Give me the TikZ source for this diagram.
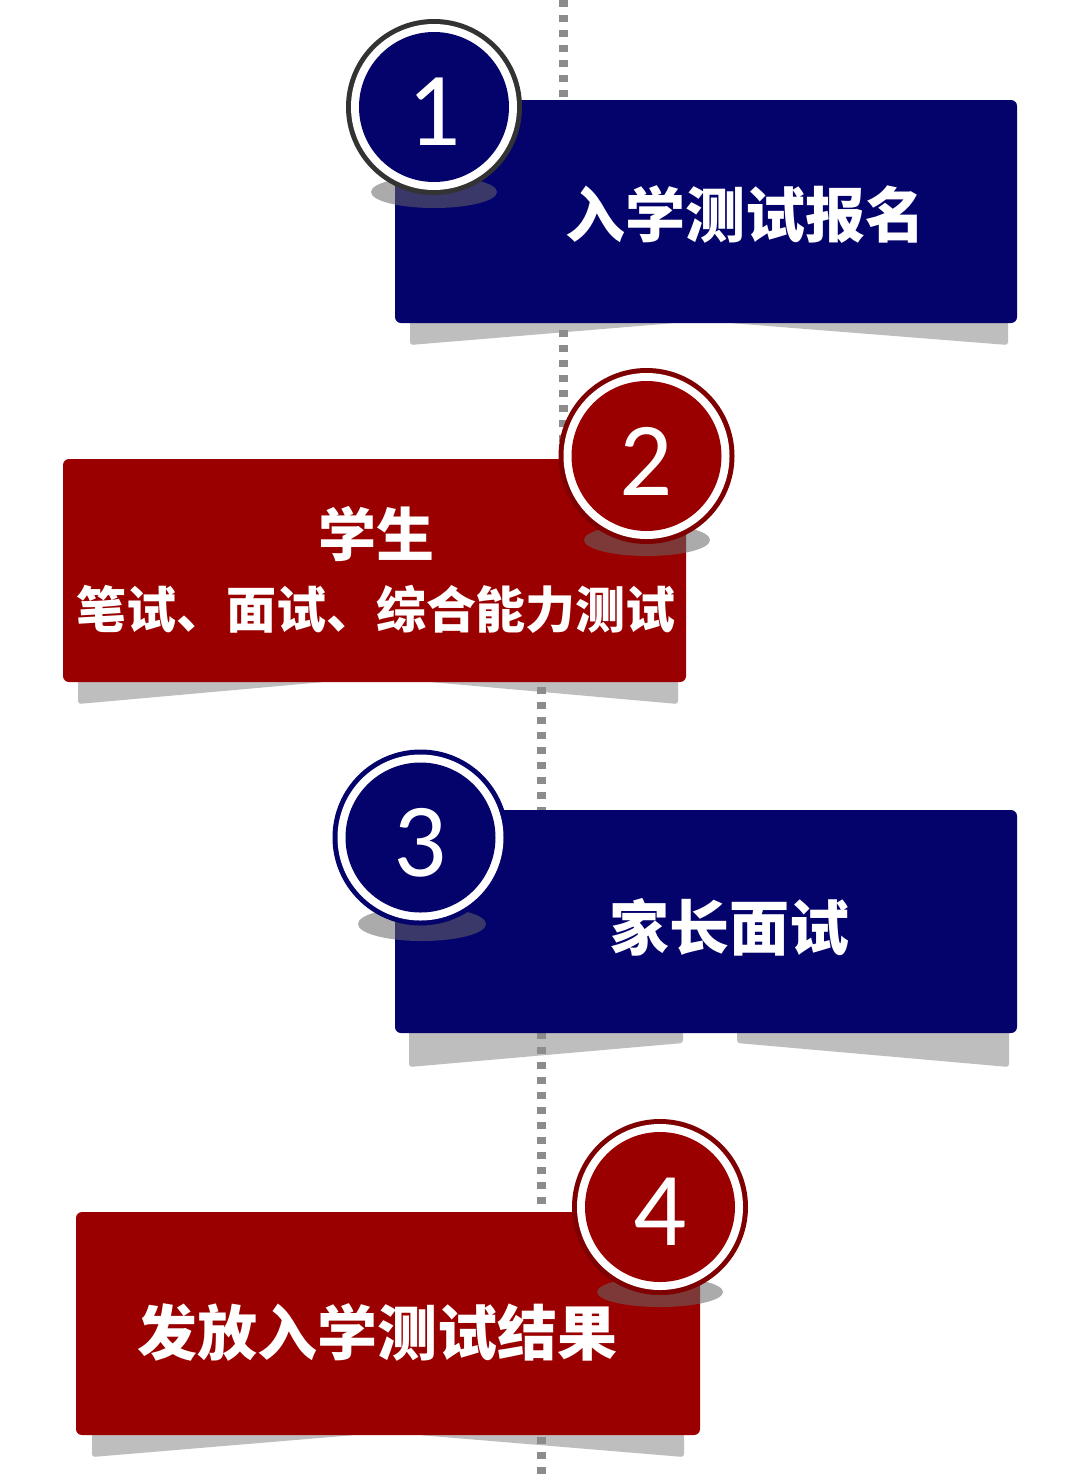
\documentclass[tikz,border=0pt]{standalone}
\usepackage{fontspec}
\newfontfamily\cjk{Noto Sans CJK SC}
\newfontfamily\numfont{Carlito}
\usetikzlibrary{calc}
\definecolor{navy}{HTML}{04026B}
\definecolor{deepred}{HTML}{9B0000}
\definecolor{ringred}{HTML}{7E0000}
\definecolor{ringgray}{HTML}{333333}
\definecolor{shadowgray}{HTML}{BEBEBE}
\definecolor{dashgray}{HTML}{8C8C8C}
\tikzset{
  stepbox/.style={rectangle, rounded corners=6pt, inner sep=0pt, fill=#1},
  boxshadow/.style={fill=shadowgray, rounded corners=3pt},
  circshadow/.style={fill=black!60, opacity=0.55},
  dashline/.style={draw=dashgray, line width=9pt, dash pattern=on 7pt off 8pt},
  numcirc/.style 2 args={circle, minimum size=176pt, inner sep=0pt, fill=#1,
    path picture={\fill[white] (path picture bounding box.center) circle (83pt);
                  \fill[#2] (path picture bounding box.center) circle (75pt);},
    text=white, font=\numfont\fontsize{105}{105}\selectfont},
  steptext/.style={text=white, inner sep=0pt, font=\cjk\bfseries\fontsize{#1}{#1}\selectfont},
}
\newcommand{\numlow}[1]{\raisebox{-5pt}[\height][0pt]{#1}}
\begin{document}
\begin{tikzpicture}[x=1pt,y=-1pt]
\useasboundingbox (0,0) rectangle (1080,1481);
\fill[white] (0,0) rectangle (1080,1481);

% box shadows
\fill[boxshadow] (410,318) -- (410,345) -- (675,323) -- (675,318) -- cycle;
\fill[boxshadow] (730,318) -- (730,323) -- (1008,345) -- (1008,318) -- cycle;
\fill[boxshadow] (78,677) -- (78,704) -- (324,682) -- (324,677) -- cycle;
\fill[boxshadow] (430,677) -- (430,682) -- (678,704) -- (678,677) -- cycle;
\fill[boxshadow] (409,1028) -- (409,1067) -- (683,1043) -- (683,1028) -- cycle;
\fill[boxshadow] (737,1028) -- (737,1043) -- (1009,1067) -- (1009,1028) -- cycle;
\fill[boxshadow] (92,1430) -- (92,1457) -- (355,1435) -- (355,1430) -- cycle;
\fill[boxshadow] (419,1430) -- (419,1435) -- (684,1457) -- (684,1430) -- cycle;

% dotted time line
\coordinate (la) at (563.5,0);
\coordinate (lb) at (563.5,470);
\coordinate (lc) at (541.5,672);
\coordinate (ld) at (541.5,1481);
\draw[dashline] (la) -- (lb);
\draw[dashline] (lc) -- (ld);

% boxes
\node[stepbox=navy, minimum width=622pt, minimum height=223pt] (b1) at (706,211.5) {};
\node[stepbox=deepred, minimum width=623pt, minimum height=223pt] (b2) at (374.5,570.5) {};
\node[stepbox=navy, minimum width=622pt, minimum height=223pt] (b3) at (706,921.5) {};
\node[stepbox=deepred, minimum width=624pt, minimum height=223pt] (b4) at (388,1323.5) {};

% texts
\node[steptext=60] (t1) at (745,215) {入学测试报名};
\node[steptext=58] (t2a) at (376,534) {学生};
\node[steptext=50] (t2b) at (376,609) {笔试、面试、综合能力测试};
\node[steptext=60] (t3) at (729,927) {家长面试};
\node[steptext=60] (t4) at (377,1332) {发放入学测试结果};

% circle shadows
\fill[circshadow] (434,192) ellipse (63 and 16);
\fill[circshadow] (647,540) ellipse (63 and 16);
\fill[circshadow] (422,924) ellipse (64 and 17);
\fill[circshadow] (660,1292) ellipse (63 and 15);

% number circles
\node[numcirc={ringgray}{navy}] (c1) at (434,107) {\numlow{1}};
\node[numcirc={ringred}{deepred}] (c2) at (646.5,456) {\numlow{2}};
\node[numcirc={navy}{navy}] (c3) at (420.5,837.5) {\numlow{3}};
\node[numcirc={ringred}{deepred}] (c4) at (660,1207) {\numlow{4}};
\end{tikzpicture}
\end{document}
